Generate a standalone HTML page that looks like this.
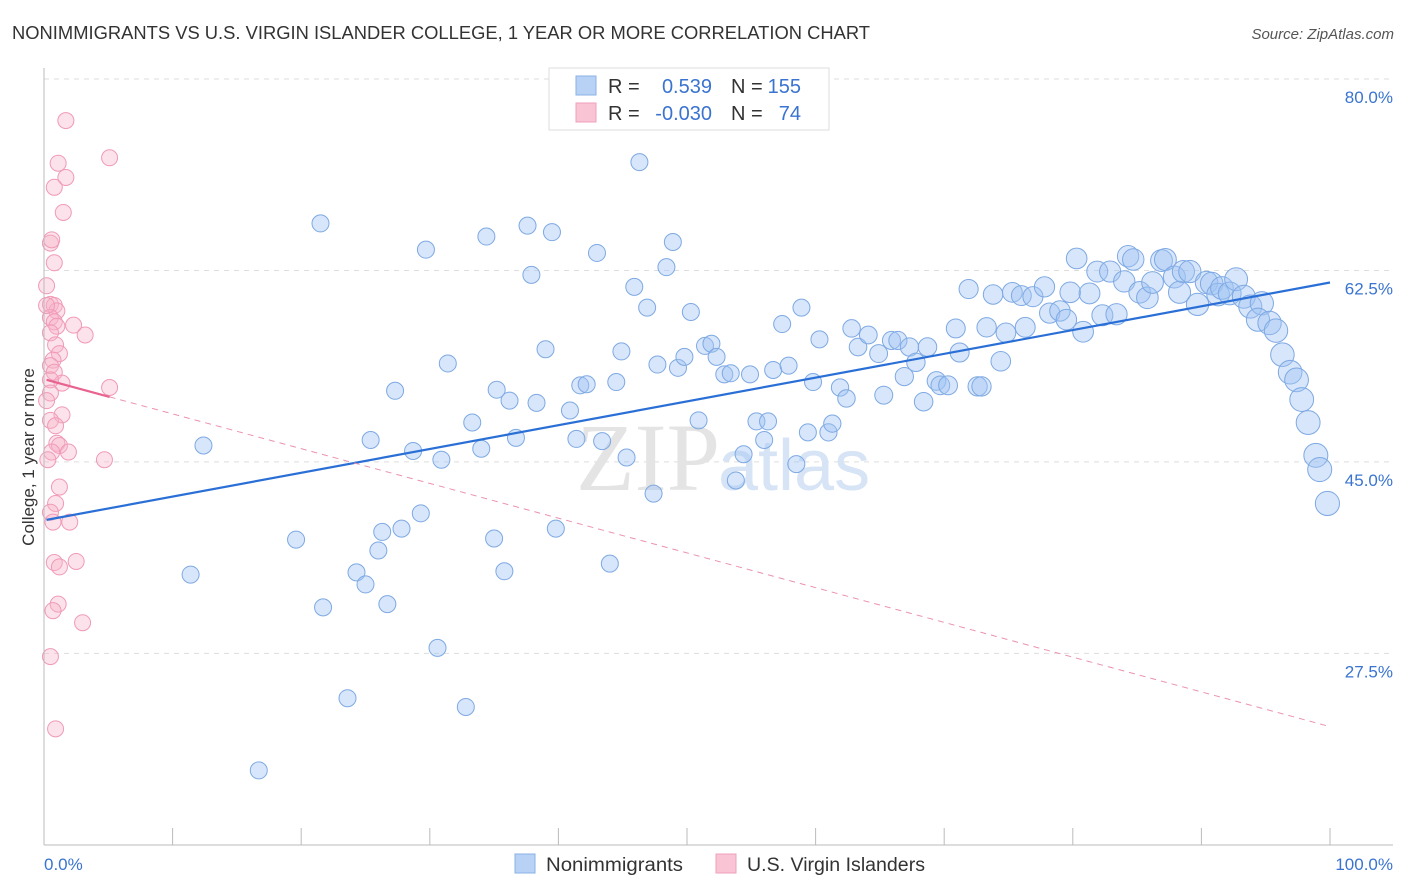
<!DOCTYPE html>
<html><head><meta charset="utf-8"><style>
body{margin:0;background:#fff;font-family:"Liberation Sans",sans-serif}
svg{display:block}
</style></head><body>
<svg id="c" width="1406" height="892" xmlns="http://www.w3.org/2000/svg">
<text x="12" y="39" font-size="18" fill="#333" textLength="858" lengthAdjust="spacingAndGlyphs">NONIMMIGRANTS VS U.S. VIRGIN ISLANDER COLLEGE, 1 YEAR OR MORE CORRELATION CHART</text>
<text x="1394" y="39" font-size="15" fill="#555" font-style="italic" text-anchor="end">Source: ZipAtlas.com</text>
<g id="grid"></g>
<text x="720" y="490" font-size="96" fill="#e4e4e4" font-family="Liberation Serif,serif" text-anchor="end">ZIP</text>
<text x="718" y="490" font-size="72" fill="#d6e4f6">atlas</text>
<g id="pts"></g>
<g id="lines"></g>
<line x1="44" y1="845" x2="1393" y2="845" stroke="#bbb"/>
<line x1="44" y1="68" x2="44" y2="845" stroke="#bbb"/>
<text x="34" y="457" font-size="17" fill="#333" text-anchor="middle" transform="rotate(-90 34 457)">College, 1 year or more</text>
<text x="44" y="870" font-size="17" fill="#3a74d0">0.0%</text>
<text x="1393" y="870" font-size="17" fill="#3a74d0" text-anchor="end">100.0%</text>
<g>
<rect x="549" y="68" width="280" height="62" fill="#fff" stroke="#ddd"/>
<rect x="576" y="76" width="20" height="19" fill="#b8d2f5" stroke="#8ab0e6"/>
<rect x="576" y="103" width="20" height="19" fill="#f9c5d5" stroke="#f0a0bb"/>
<text font-size="20" fill="#333"><tspan x="608" y="93">R =</tspan><tspan x="608" y="120">R =</tspan><tspan x="731" y="93">N =</tspan><tspan x="731" y="120">N =</tspan></text>
<text font-size="20" fill="#3a74d0"><tspan x="712" y="93" text-anchor="end">0.539</tspan><tspan x="712" y="120" text-anchor="end">-0.030</tspan><tspan x="801" y="93" text-anchor="end">155</tspan><tspan x="801" y="120" text-anchor="end">74</tspan></text>
</g>
<g>
<rect x="515" y="854" width="20" height="19" fill="#b8d2f5" stroke="#8ab0e6"/>
<text x="546" y="871" font-size="19" fill="#333" textLength="137" lengthAdjust="spacingAndGlyphs">Nonimmigrants</text>
<rect x="716" y="854" width="20" height="19" fill="#f9c5d5" stroke="#f0a0bb"/>
<text x="747" y="871" font-size="19" fill="#333" textLength="178" lengthAdjust="spacingAndGlyphs">U.S. Virgin Islanders</text>
</g>
</svg>
<script>
const yTicks=[80,62.5,45,27.5];
const yTickLabels=["80.0%","62.5%","45.0%","27.5%"];
const xTicks=[0,10,20,30,40,50,60,70,80,90,100];
const blueX=[21.5,29.7,34.4,37.6,39.5,43.0,46.3,48.9,48.4,37.9,45.9,46.9,50.3,31.4,39.0,44.9,47.7,49.3,49.8,51.4,51.9,52.3,52.9,53.4,54.9,56.7,57.9,57.4,58.9,60.3,62.8,63.3,64.1,64.9,65.9,66.4,67.3,67.8,68.7,70.9,71.2,71.9,73.8,73.3,74.8,74.4,75.3,76.0,76.9,76.3,77.8,78.2,79.0,79.5,79.8,80.3,80.8,81.3,81.9,82.3,82.9,83.4,84.0,84.3,84.7,85.2,85.8,86.2,86.9,87.2,87.9,88.3,88.6,89.1,89.7,90.4,90.8,91.3,91.6,92.2,92.7,93.3,93.8,94.7,94.4,95.3,95.8,96.3,96.9,97.4,97.8,98.3,98.9,99.2,99.8,27.3,35.2,36.2,38.3,40.9,41.7,42.2,44.5,33.3,36.7,41.4,43.4,50.9,55.4,56.3,56.0,59.4,61.0,61.3,61.9,62.4,65.3,66.9,68.4,69.4,69.7,70.3,72.6,72.9,59.8,12.4,25.4,28.7,30.9,34.0,45.3,54.4,58.5,53.8,47.4,19.6,26.3,27.8,29.3,35.0,39.8,26.0,11.4,24.3,25.0,35.8,44.0,21.7,26.7,30.6,23.6,32.8,16.7];
const blueY=[66.8,64.4,65.6,66.6,66.0,64.1,72.4,65.1,62.8,62.1,61.0,59.1,58.7,54.0,55.3,55.1,53.9,53.6,54.6,55.6,55.8,54.6,53.0,53.1,53.0,53.4,53.8,57.6,59.1,56.2,57.2,55.5,56.6,54.9,56.1,56.1,55.5,54.1,55.5,57.2,55.0,60.8,60.3,57.3,56.8,54.2,60.5,60.2,60.1,57.3,61.0,58.6,58.8,58.0,60.5,63.6,56.9,60.4,62.4,58.4,62.4,58.5,61.5,63.8,63.5,60.5,60.0,61.4,63.4,63.5,61.9,60.5,62.4,62.4,59.4,61.4,61.3,60.3,60.9,60.4,61.7,60.1,59.2,59.5,58.0,57.7,57.0,54.8,53.2,52.5,50.7,48.6,45.6,44.3,41.2,51.5,51.6,50.6,50.4,49.7,52.0,52.1,52.3,48.6,47.2,47.1,46.9,48.8,48.7,48.7,47.0,47.7,47.7,48.5,51.8,50.8,51.1,52.8,50.5,52.4,52.0,52.0,51.9,51.9,52.3,46.5,47.0,46.0,45.2,46.2,45.4,45.7,44.8,43.3,42.1,37.9,38.6,38.9,40.3,38.0,38.9,36.9,34.7,34.9,33.8,35.0,35.7,31.7,32.0,28.0,23.4,22.6,16.8];
const pinkX=[1.7,5.1,1.1,1.7,0.8,1.5,0.5,0.8,0.2,0.5,0.8,1.0,0.5,0.8,1.0,2.3,3.2,0.5,0.9,1.2,0.7,0.5,0.8,1.4,5.1,0.5,0.5,0.2,1.4,0.5,0.9,1.0,1.2,1.9,0.6,4.7,1.2,0.9,0.5,0.7,2.0,0.8,2.5,1.2,1.1,0.7,3.0,0.5,0.9,0.6,0.2,0.3];
const pinkY=[76.2,72.8,72.3,71.0,70.1,67.8,65.0,63.2,61.1,59.4,59.3,58.8,58.2,57.8,57.4,57.5,56.6,56.8,55.7,54.9,54.3,53.8,53.2,52.2,51.8,52.5,51.3,50.6,49.3,48.8,48.3,46.7,46.5,45.9,45.9,45.2,42.7,41.2,40.4,39.5,39.5,35.8,35.9,35.4,32.0,31.4,30.3,27.2,20.6,65.3,59.3,45.2];
const blueTrend=[39.7,61.4];
const pinkTrend=[52.5,20.8];
const pinkSolidEnd=5.1;

const NS="http://www.w3.org/2000/svg";
const X=v=>44+v*12.86;
const Y=v=>79+(80-v)*10.94;
function mk(t,a,p){const e=document.createElementNS(NS,t);for(const k in a)e.setAttribute(k,a[k]);p.appendChild(e);return e;}
const grid=document.getElementById('grid');
yTicks.forEach((t,i)=>{
 const l=mk('line',{x1:44,x2:1393,y1:Y(t),y2:Y(t),stroke:'#ddd','stroke-dasharray':'5,5'},grid);
 
 
 const tx=mk('text',{x:1393,y:Y(t)+24,'font-size':17,fill:'#3a74d0','text-anchor':'end'},grid);
 tx.textContent=yTickLabels[i];
 
 
});
xTicks.forEach(t=>{
 const l=mk('line',{x1:X(t),x2:X(t),y1:828,y2:845,stroke:'#bbb'},grid);
 
 
});
const pts=document.getElementById('pts');
blueX.forEach((x,i)=>{
 const r=8.5+Math.max(0,x-60)*0.09;
 const c=mk('circle',{cx:X(x),cy:Y(blueY[i]),r:r,fill:'rgba(160,196,242,0.42)',stroke:'#7ea9e3','stroke-width':1},pts);
 
 
});
pinkX.forEach((x,i)=>{
 const c=mk('circle',{cx:X(x),cy:Y(pinkY[i]),r:8,fill:'rgba(248,178,200,0.38)',stroke:'#f09ab8','stroke-width':1},pts);
 
 
});
const lines=document.getElementById('lines');
const x0=0.2;
const bl=mk('line',{x1:X(x0),y1:Y(blueTrend[0]),x2:X(100),y2:Y(blueTrend[1]),stroke:'#2a6fd6','stroke-width':2.2},lines);


const pAt=x=>pinkTrend[0]+(pinkTrend[1]-pinkTrend[0])*(x-x0)/(100-x0);
const ps=mk('line',{x1:X(x0),y1:Y(pAt(x0)),x2:X(pinkSolidEnd),y2:Y(pAt(pinkSolidEnd)),stroke:'#e8638f','stroke-width':2.2},lines);


const pd=mk('line',{x1:X(pinkSolidEnd),y1:Y(pAt(pinkSolidEnd)),x2:X(100),y2:Y(pAt(100)),stroke:'#eb92b0','stroke-width':1,'stroke-dasharray':'6,5'},lines);


</script>
</body></html>
